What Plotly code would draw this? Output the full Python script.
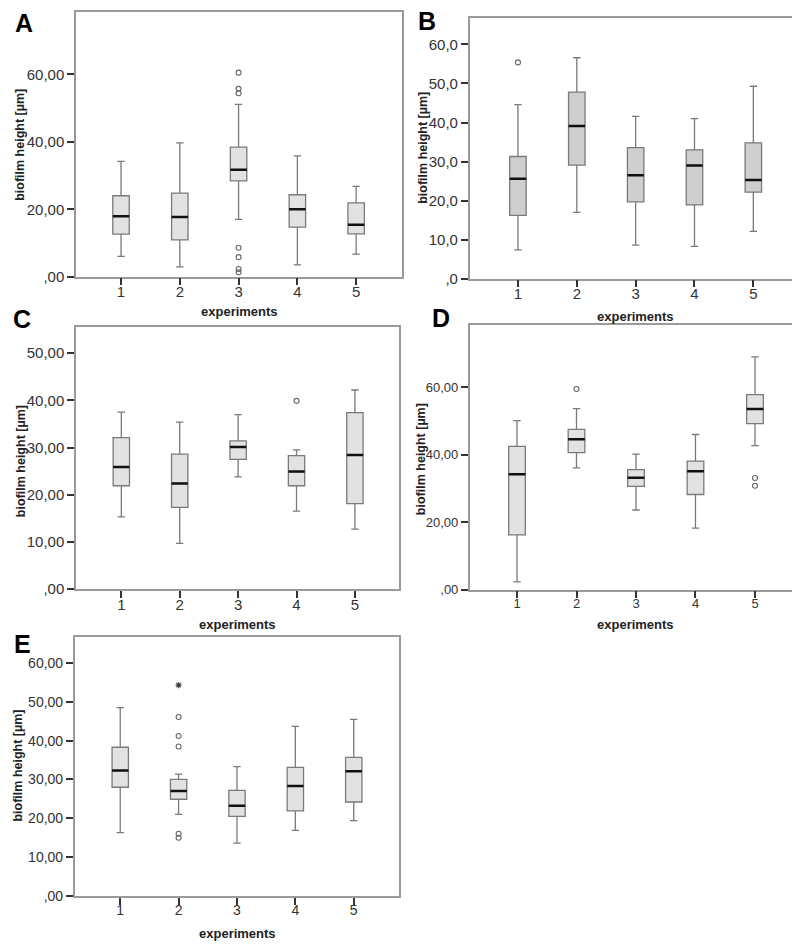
import plotly.graph_objects as go

experiments = [1, 2, 3, 4, 5]
exp_labels = ["1", "2", "3", "4", "5"]

# ---- Panel A ----
A_upper = [34.2, 39.7, 51.1, 35.8, 26.8]
A_q3 = [24.0, 24.8, 38.4, 24.3, 21.9]
A_median = [17.9, 17.7, 31.7, 20.0, 15.4]
A_q1 = [12.6, 10.9, 28.4, 14.7, 12.7]
A_lower = [6.0, 2.9, 17.0, 3.5, 6.7]
A_out_x = [3, 3, 3, 3, 3, 3, 3]
A_out_y = [60.5, 55.7, 54.4, 8.6, 5.8, 2.3, 1.3]
A_ticks = [0, 20, 40, 60]
A_ticklabels = [",00", "20,00", "40,00", "60,00"]

# ---- Panel B ----
B_upper = [44.6, 56.6, 41.6, 41.0, 49.3]
B_q3 = [31.3, 47.8, 33.6, 33.0, 34.8]
B_median = [25.6, 39.1, 26.5, 29.0, 25.3]
B_q1 = [16.2, 29.1, 19.7, 18.9, 22.2]
B_lower = [7.4, 17.0, 8.6, 8.3, 12.1]
B_out_x = [1]
B_out_y = [55.4]
B_ticks = [0, 10, 20, 30, 40, 50, 60]
B_ticklabels = [",0", "10,0", "20,0", "30,0", "40,0", "50,0", "60,0"]

# ---- Panel C ----
C_upper = [37.5, 35.4, 37.0, 29.5, 42.2]
C_q3 = [32.1, 28.6, 31.4, 28.3, 37.4]
C_median = [25.9, 22.4, 30.1, 24.9, 28.4]
C_q1 = [21.9, 17.3, 27.5, 21.9, 18.1]
C_lower = [15.3, 9.7, 23.8, 16.5, 12.7]
C_out_x = [4]
C_out_y = [39.9]
C_ticks = [0, 10, 20, 30, 40, 50]
C_ticklabels = [",00", "10,00", "20,00", "30,00", "40,00", "50,00"]

# ---- Panel D ----
D_upper = [50.1, 53.7, 40.2, 46.0, 69.0]
D_q3 = [42.5, 47.5, 35.6, 38.1, 57.8]
D_median = [34.2, 44.6, 33.2, 35.1, 53.6]
D_q1 = [16.2, 40.6, 30.6, 28.2, 49.2]
D_lower = [2.3, 36.1, 23.6, 18.2, 42.7]
D_out_x = [2, 5, 5]
D_out_y = [59.5, 33.1, 30.8]
D_ticks = [0, 20, 40, 60]
D_ticklabels = [",00", "20,00", "40,00", "60,00"]

# ---- Panel E ----
E_upper = [48.5, 31.4, 33.3, 43.7, 45.5]
E_q3 = [38.3, 30.0, 27.2, 33.1, 35.7]
E_median = [32.3, 27.0, 23.2, 28.3, 32.1]
E_q1 = [28.0, 24.9, 20.5, 21.9, 24.2]
E_lower = [16.3, 21.0, 13.6, 16.9, 19.4]
E_out_x = [2, 2, 2, 2, 2]
E_out_y = [46.1, 41.2, 38.5, 16.0, 15.0]
E_ext_x = [2]
E_ext_y = [54.3]
E_ticks = [0, 10, 20, 30, 40, 50, 60]
E_ticklabels = [",00", "10,00", "20,00", "30,00", "40,00", "50,00", "60,00"]

W, H = 800, 945
FONT = "Liberation Sans, Arial, sans-serif"

def px_x(v):
    return v / W

def px_y(v):
    return 1 - v / H

panels = [
    dict(name="A", upper=A_upper, q3=A_q3, med=A_median, q1=A_q1, lower=A_lower,
         ox=A_out_x, oy=A_out_y, ticks=A_ticks, tlab=A_ticklabels, fs=15,
         px=(68, 394), py=(4, 271), yr=78.5, xr=(0.234, 5.78), fill="#e2e2e2",
         letter=(16, 15), ytitle=(12, 138), xtitle=(231, 306)),
    dict(name="B", upper=B_upper, q3=B_q3, med=B_median, q1=B_q1, lower=B_lower,
         ox=B_out_x, oy=B_out_y, ticks=B_ticks, tlab=B_ticklabels, fs=15,
         px=(461.7, 793), py=(10, 273), yr=66.8, xr=(0.18, 5.81), fill="#cfcfcf",
         letter=(419, 13), ytitle=(415, 141), xtitle=(627, 311)),
    dict(name="C", upper=C_upper, q3=C_q3, med=C_median, q1=C_q1, lower=C_lower,
         ox=C_out_x, oy=C_out_y, ticks=C_ticks, tlab=C_ticklabels, fs=15,
         px=(68, 391), py=(322, 586), yr=55.5, xr=(0.224, 5.755), fill="#e2e2e2",
         letter=(14, 314), ytitle=(13, 457), xtitle=(230, 622)),
    dict(name="D", upper=D_upper, q3=D_q3, med=D_median, q1=D_q1, lower=D_lower,
         ox=D_out_x, oy=D_out_y, ticks=D_ticks, tlab=D_ticklabels, fs=13,
         px=(461.7, 795), py=(320, 586.5), yr=78.4, xr=(0.205, 5.807), fill="#e2e2e2",
         letter=(433, 313), ytitle=(413, 455), xtitle=(627, 622)),
    dict(name="E", upper=E_upper, q3=E_q3, med=E_median, q1=E_q1, lower=E_lower,
         ox=E_out_x, oy=E_out_y, ticks=E_ticks, tlab=E_ticklabels, fs=14,
         px=(66.7, 390.7), py=(634, 895.5), yr=66.8, xr=(0.22, 5.77), fill="#e2e2e2",
         letter=(14, 641), ytitle=(10, 764), xtitle=(229, 933)),
]

fig = go.Figure()
layout = dict(width=W, height=H, margin=dict(l=0, r=0, t=0, b=0),
              paper_bgcolor="white", plot_bgcolor="white", showlegend=False,
              boxmode="overlay", annotations=[])

BOXW = 0.28
for i, p in enumerate(panels):
    idx = "" if i == 0 else str(i + 1)
    xa, ya = "x" + idx, "y" + idx
    fig.add_trace(go.Box(
        x=experiments, q1=p["q1"], median=p["med"], q3=p["q3"],
        lowerfence=p["lower"], upperfence=p["upper"],
        width=BOXW, whiskerwidth=0.45, fillcolor=p["fill"],
        line=dict(color="#7a7a7a", width=1.3), boxpoints=False,
        hoverinfo="skip", xaxis=xa, yaxis=ya))
    # black median line drawn as a degenerate box at the median value
    fig.add_trace(go.Box(
        x=experiments, q1=p["med"], median=p["med"], q3=p["med"],
        lowerfence=p["med"], upperfence=p["med"],
        width=BOXW, whiskerwidth=0, fillcolor="rgba(0,0,0,0)",
        line=dict(color="#111111", width=2.5), boxpoints=False,
        hoverinfo="skip", xaxis=xa, yaxis=ya))
    fig.add_trace(go.Scatter(
        x=p["ox"], y=p["oy"], mode="markers",
        marker=dict(symbol="circle-open", size=5, color="#666666", line=dict(width=1.1)),
        hoverinfo="skip", xaxis=xa, yaxis=ya))
    if p["name"] == "E":
        fig.add_trace(go.Scatter(
            x=E_ext_x, y=E_ext_y, mode="markers",
            marker=dict(symbol="asterisk-open", size=5, color="#444444", line=dict(width=1.2)),
            hoverinfo="skip", xaxis=xa, yaxis=ya))

    axis_common = dict(showline=True, mirror=True, linecolor="#9a9a9a", linewidth=1.5,
                       showgrid=False, zeroline=False, ticks="outside", ticklen=7,
                       tickwidth=1.5, tickcolor="#333333",
                       tickfont=dict(family=FONT, size=p["fs"], color="#333333"))
    layout["xaxis" + idx] = dict(
        domain=[px_x(p["px"][0]), px_x(p["px"][1])], range=list(p["xr"]),
        tickvals=experiments, ticktext=exp_labels, anchor=ya,
        ticklabelstandoff=-6, **axis_common)
    layout["yaxis" + idx] = dict(
        domain=[px_y(p["py"][1]), px_y(p["py"][0])], range=[0, p["yr"]],
        tickvals=p["ticks"], ticktext=p["tlab"], anchor=xa, **axis_common)

    layout["annotations"].append(dict(
        text="<b>%s</b>" % p["name"], x=px_x(p["letter"][0]), y=px_y(p["letter"][1]),
        xref="paper", yref="paper", xanchor="center", yanchor="middle", showarrow=False,
        font=dict(family=FONT, size=25, color="black")))
    layout["annotations"].append(dict(
        text="<b>biofilm height [µm]</b>", x=px_x(p["ytitle"][0]), y=px_y(p["ytitle"][1]),
        xref="paper", yref="paper", xanchor="center", yanchor="middle", showarrow=False,
        textangle=-90, font=dict(family=FONT, size=12.5, color="#222222")))
    layout["annotations"].append(dict(
        text="<b>experiments</b>", x=px_x(p["xtitle"][0]), y=px_y(p["xtitle"][1]),
        xref="paper", yref="paper", xanchor="center", yanchor="middle", showarrow=False,
        font=dict(family=FONT, size=13, color="#222222")))

fig.update_layout(**layout)
fig.write_html("out.html")
